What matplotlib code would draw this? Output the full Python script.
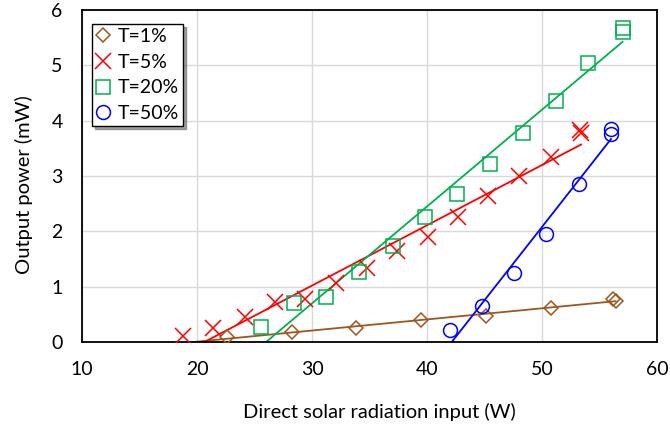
import numpy as np
import matplotlib
matplotlib.use("Agg")
import matplotlib.pyplot as plt

plt.rcParams['font.family'] = ['Lato', 'DejaVu Sans']

# T = 1 %
x1 = [22.6, 28.3, 33.8, 39.5, 45.1, 50.8, 56.2, 56.4]
y1 = [0.09, 0.18, 0.25, 0.40, 0.47, 0.61, 0.78, 0.74]
# T = 5 %
x5 = [18.8, 21.4, 24.2, 26.8, 29.4, 32.1, 34.8, 37.4, 40.1, 42.7, 45.3, 48.0, 50.8, 53.3, 53.4]
y5 = [0.11, 0.25, 0.45, 0.72, 0.78, 1.07, 1.34, 1.64, 1.90, 2.26, 2.64, 3.00, 3.34, 3.83, 3.78]
# T = 20 %
x20 = [25.6, 28.4, 31.2, 34.1, 37.0, 39.8, 42.6, 45.5, 48.35, 51.2, 54.0, 57.0, 57.0]
y20 = [0.27, 0.70, 0.81, 1.27, 1.74, 2.26, 2.67, 3.22, 3.78, 4.36, 5.04, 5.67, 5.60]
# T = 50 %
x50 = [42.0, 44.8, 47.6, 50.35, 53.2, 56.0, 56.0]
y50 = [0.22, 0.65, 1.25, 1.95, 2.86, 3.85, 3.76]

labels = ['T=1%', 'T=5%', 'T=20%', 'T=50%']
colors = ['#A0561E', '#FF0000', '#00B050', '#0000FF']
markers = ['D', 'x', 's', 'o']
msizes = [7, 11, 9.5, 10]

fs = 14

fig = plt.figure(figsize=(6.7, 4.25), dpi=100)
ax = fig.add_axes([0.1224, 0.1953, 0.8582, 0.7812])

series = [(x1, y1), (x5, y5), (x20, y20), (x50, y50)]
for (xs, ys), lab, c, m, ms in zip(series, labels, colors, markers, msizes):
    xs = np.array(xs)
    ys = np.array(ys)
    ax.plot(xs, ys, linestyle='none', marker=m, markersize=ms,
            markerfacecolor='none', markeredgecolor=c, markeredgewidth=1.1,
            label=lab, zorder=3)
    # linear trendline
    k, b = np.polyfit(xs, ys, 1)
    xl = np.linspace(10, xs.max(), 50)
    ax.plot(xl, k * xl + b, color=c, linewidth=1.3, zorder=2)

ax.set_xlim(10, 60)
ax.set_ylim(0, 6)
ax.set_xticks(range(10, 61, 10))
ax.set_yticks(range(0, 7))
ax.grid(True, color='#D9D9D9', linewidth=1)
ax.set_axisbelow(True)
ax.tick_params(axis='x', length=0, labelsize=fs, pad=14)
ax.tick_params(axis='y', length=0, labelsize=fs, pad=14)
for s in ax.spines.values():
    s.set_color('black')
    s.set_linewidth(1.3)

ax.set_xlabel('Direct solar radiation input (W)', fontsize=14.5, va='center')
ax.xaxis.set_label_coords(0.517, -0.21)
ax.set_ylabel('Output power (mW)', fontsize=14.5, va='center')
ax.yaxis.set_label_coords(-0.101, 0.473)

leg = ax.legend(loc='upper left', bbox_to_anchor=(0.017, 0.958), fontsize=fs,
                fancybox=False, shadow=True, edgecolor='black', framealpha=1,
                handlelength=0.8, handletextpad=0.35, borderpad=0.2,
                labelspacing=0.45, borderaxespad=0)
leg.get_frame().set_linewidth(1)

fig.savefig('out.png', dpi=100)
